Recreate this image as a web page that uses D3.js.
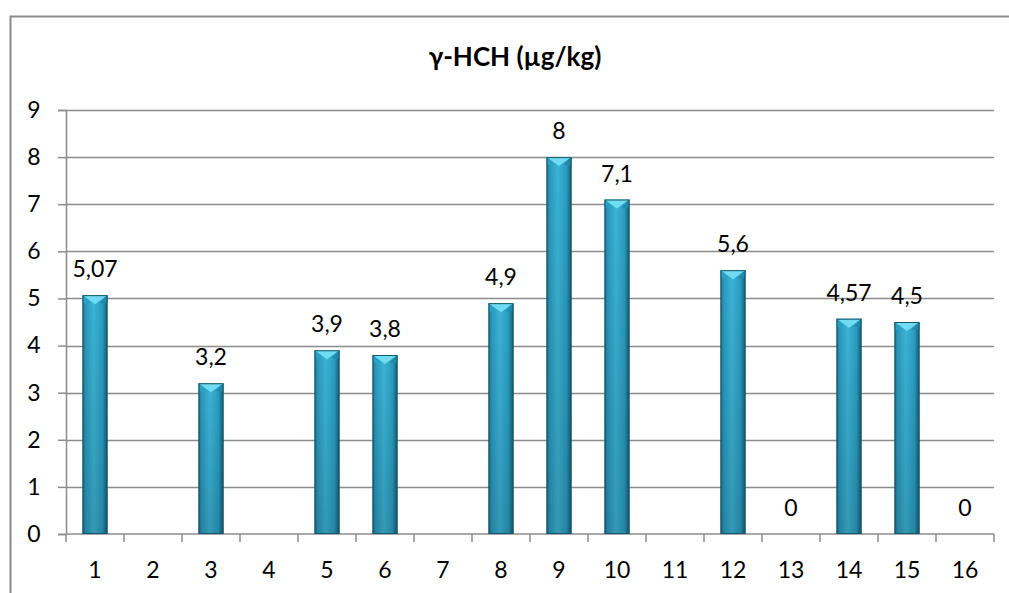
<!DOCTYPE html>
<html lang="en">
  <head>
    <meta charset="utf-8">
    <title>γ-HCH</title>
    <style>
      body { margin: 0; background: #fff; }
      .chart text { font-family: Lato, "Open Sans", sans-serif; fill: #000; }
      .axis path, .axis line { stroke: #8c8c8c; }
      .grid line { stroke: #8c8c8c; }
    </style>
  </head>
  <body>
    <svg class="chart"></svg>

    <script src="https://cdnjs.cloudflare.com/ajax/libs/d3/7.8.5/d3.min.js"></script>
    <script type="text/javascript">
    var categories = ["1","2","3","4","5","6","7","8","9","10","11","12","13","14","15","16"];
    var values = [5.07, null, 3.2, null, 3.9, 3.8, null, 4.9, 8, 7.1, null, 5.6, 0, 4.57, 4.5, 0];
    var yTicks = [0, 1, 2, 3, 4, 5, 6, 7, 8, 9];
    var title = "γ-HCH (µg/kg)";

    var W = 1009, H = 593;
    var margin = {top: 110, right: 15, bottom: 59, left: 66},
        width = 994 - margin.left,
        height = 534 - margin.top;

    var svg = d3.select(".chart").attr("width", W).attr("height", H);

    // outer frame
    svg.append("rect")
      .attr("x", 10.5).attr("y", 16.5)
      .attr("width", 1020).attr("height", 600)
      .attr("fill", "none").attr("stroke", "#8c8c8c").attr("stroke-width", 2);

    svg.append("text")
      .attr("x", 515).attr("y", 66)
      .attr("text-anchor", "middle")
      .style("font-size", "26px").style("font-weight", "bold")
      .text(title);

    var x = d3.scaleBand().domain(categories).range([0, width]);
    var y = d3.scaleLinear().domain([0, 9]).range([height, 0]);

    var defs = svg.append("defs");
    var g1 = defs.append("linearGradient").attr("id", "barGrad")
      .attr("x1", "0").attr("x2", "1").attr("y1", "0").attr("y2", "0");
    [["0%", "#1b6f8a"], ["12%", "#2a98bb"], ["45%", "#3cb3d6"], ["80%", "#2a9cc0"], ["100%", "#155a70"]]
      .forEach(function(s) { g1.append("stop").attr("offset", s[0]).attr("stop-color", s[1]); });
    var g2 = defs.append("linearGradient").attr("id", "shade")
      .attr("x1", "0").attr("x2", "0").attr("y1", "0").attr("y2", "1");
    g2.append("stop").attr("offset", "0%").attr("stop-color", "#000").attr("stop-opacity", 0);
    g2.append("stop").attr("offset", "100%").attr("stop-color", "#000").attr("stop-opacity", 0.15);

    var chart = svg.append("g")
      .attr("transform", "translate(" + margin.left + "," + margin.top + ")");

    // gridlines
    chart.append("g").attr("class", "grid")
      .selectAll("line").data(yTicks.slice(1)).enter().append("line")
        .attr("x1", 0).attr("x2", width)
        .attr("y1", function(d) { return Math.round(y(d)) + 0.5; })
        .attr("y2", function(d) { return Math.round(y(d)) + 0.5; })
        .attr("stroke-width", 1.5);

    var yAxis = d3.axisLeft(y).tickValues(yTicks).tickSize(8).tickPadding(22);
    var yg = chart.append("g").attr("class", "y axis").call(yAxis);
    yg.selectAll("path, line").attr("stroke-width", 1.5);
    yg.selectAll("text").style("font-size", "23px").attr("text-anchor", "middle").attr("dx", "-2");

    // x axis with ticks between categories
    var xg = chart.append("g").attr("class", "x axis")
      .attr("transform", "translate(0," + height + ")");
    xg.append("line").attr("x1", 0).attr("x2", width).attr("y1", 0).attr("y2", 0)
      .attr("stroke-width", 1.5);
    var bounds = d3.range(categories.length + 1).map(function(i) { return i * x.step(); });
    xg.selectAll(".tk").data(bounds).enter().append("line").attr("class", "tk")
      .attr("x1", function(d) { return d; }).attr("x2", function(d) { return d; })
      .attr("y1", 0).attr("y2", 8).attr("stroke-width", 1.5);
    xg.selectAll(".lbl").data(categories).enter().append("text").attr("class", "lbl")
      .attr("x", function(d) { return x(d) + x.bandwidth() / 2; })
      .attr("y", 44)
      .attr("text-anchor", "middle")
      .style("font-size", "23px")
      .text(function(d) { return d; });

    var data = categories.map(function(c, i) { return {cat: c, value: values[i]}; })
      .filter(function(d) { return d.value !== null; });

    var bw = 25;
    var bars = chart.selectAll(".bar").data(data.filter(function(d) { return d.value > 0; }))
      .enter().append("g").attr("class", "bar")
      .attr("transform", function(d) {
        return "translate(" + (x(d.cat) + x.bandwidth() / 2 - bw / 2) + "," + y(d.value) + ")";
      });

    bars.append("rect")
      .attr("width", bw)
      .attr("height", function(d) { return height - y(d.value); })
      .attr("fill", "url(#barGrad)");
    bars.append("rect")
      .attr("width", bw)
      .attr("height", function(d) { return height - y(d.value); })
      .attr("fill", "url(#shade)");
    // top bevel
    var bv = 8;
    bars.append("path")
      .attr("d", "M0,0 L" + bv + "," + bv + " L0," + bv + " Z")
      .attr("fill", "#2c9fc4");
    bars.append("path")
      .attr("d", "M" + bw + ",0 L" + (bw - bv) + "," + bv + " L" + bw + "," + bv + " Z")
      .attr("fill", "#2389aa");
    bars.append("path")
      .attr("d", "M0,0 L" + bw + ",0 L" + (bw / 2) + "," + (bv + 1) + " Z")
      .attr("fill", "#6fdcf3");
    bars.append("rect")
      .attr("x", 0.5).attr("y", 0.5)
      .attr("width", bw - 1)
      .attr("height", function(d) { return height - y(d.value) - 1; })
      .attr("fill", "none").attr("stroke", "#17566b").attr("stroke-width", 1);

    // value labels
    chart.selectAll(".val").data(data).enter().append("text").attr("class", "val")
      .attr("x", function(d) { return x(d.cat) + x.bandwidth() / 2; })
      .attr("y", function(d) { return y(d.value) - 18; })
      .attr("text-anchor", "middle")
      .style("font-size", "23px")
      .text(function(d) { return String(d.value).replace(".", ","); });
    </script>
  </body>
</html>
